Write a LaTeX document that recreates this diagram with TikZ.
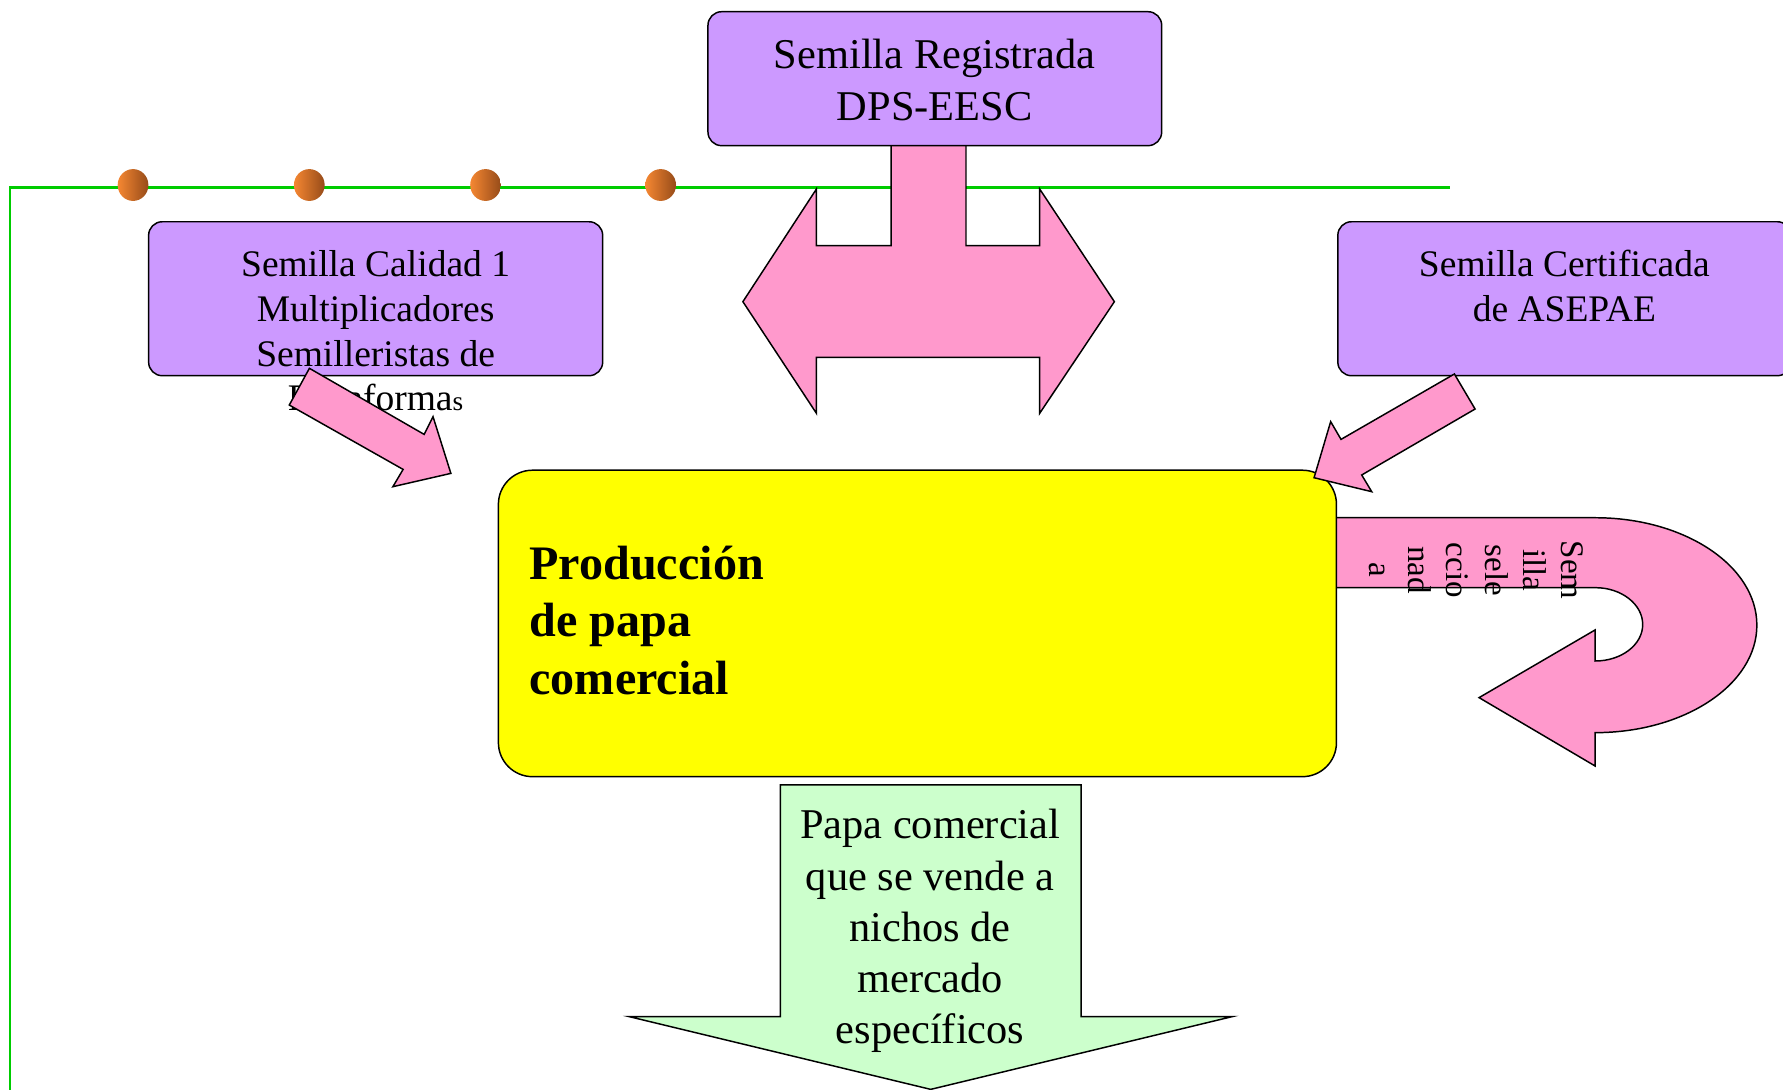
\documentclass[tikz,border=0pt]{standalone}
\usepackage{fontspec}
\setmainfont{Liberation Serif}
\usetikzlibrary{shapes.geometric}
\definecolor{purp}{HTML}{CC99FF}
\definecolor{pinkf}{HTML}{FF99CC}
\definecolor{yel}{HTML}{FFFF00}
\definecolor{lgreen}{HTML}{CCFFCC}
\definecolor{gline}{HTML}{00CC00}
\definecolor{ballA}{RGB}{245,135,50}
\definecolor{ballB}{RGB}{150,75,25}
\begin{document}
\begin{tikzpicture}[x=1pt,y=-1pt,
  seedbox/.style={rectangle, draw=black, line width=1.3pt, fill=purp, rounded corners=12pt, inner sep=0pt},
  prodbox/.style={rectangle, draw=black, line width=1.3pt, fill=yel, rounded corners=30pt, inner sep=0pt},
  pinkshape/.style={draw=black, fill=pinkf, line width=1.3pt, line join=miter},
  greenshape/.style={draw=black, fill=lgreen, line width=1.3pt, line join=miter},
  ball/.style={ellipse, inner sep=0pt, minimum width=27pt, minimum height=28pt, left color=ballA, right color=ballB},
  txt/.style={inner sep=0pt, align=center},
  frameline/.style={draw=gline, line width=2pt}]
\useasboundingbox (0,0) rectangle (1568,958);
\fill[white] (0,0) rectangle (1568,958);
% green frame
\coordinate (g1) at (1275,165);
\coordinate (g2) at (8.6,165);
\coordinate (g3) at (8.6,962);
\draw[frameline] (g1) -- (g2) -- (g3);
% balls
\node[ball] (b1) at (117,162.7) {};
\node[ball] (b2) at (272,162.7) {};
\node[ball] (b3) at (427,162.7) {};
\node[ball] (b4) at (581,162.7) {};
% double arrow below top box
\filldraw[pinkshape] (783.6,120) -- (783.6,216) -- (718,216) -- (718,166.2) -- (653.3,265.3) -- (718,363.5) -- (718,314.2) -- (914.3,314.2) -- (914.3,363.5) -- (980,265.3) -- (914.3,166.2) -- (914.3,216) -- (849.5,216) -- (849.5,120) -- cycle;
% top box
\node[seedbox, minimum width=399pt, minimum height=117.8pt] (reg) at (822.1,69.2) {};
\node[txt, font=\fontsize{37.3}{45.5}\selectfont] (treg) at (822,70.3) {Semilla Registrada\\DPS-EESC};
% left box
\node[seedbox, minimum width=399.3pt, minimum height=135.4pt] (cal) at (330.35,262.7) {};
\node[txt, font=\fontsize{33}{39.3}\selectfont] (tcal) at (330.3,291) {Semilla Calidad 1\\Multiplicadores\\Semilleristas de\\Plataforma{\fontsize{24}{24}\selectfont s}};
% right box
\node[seedbox, minimum width=398.5pt, minimum height=135.4pt] (cert) at (1375.75,262.7) {};
\node[txt, font=\fontsize{33}{39.3}\selectfont] (tcert) at (1375.7,251.5) {Semilla Certificada\\de ASEPAE};
% U-turn arrow
\filldraw[pinkshape] (1165,455.3) -- (1403,455.3) .. controls (1481.4,455.3) and (1545,497.6) .. (1545,549.8) .. controls (1545,602) and (1481.4,644.3) .. (1402.7,644.3) -- (1402.7,673.6) -- (1300.7,613.5) -- (1402.7,554) -- (1402.7,581.3) .. controls (1425.9,581.3) and (1444.6,567) .. (1444.6,549.2) .. controls (1444.6,531.4) and (1425.9,516.8) .. (1403,516.8) -- (1165,516.8) -- cycle;
\node[txt, rotate=-90, font=\fontsize{29}{33.8}\selectfont] (tsem) at (1298.5,501.5) {Sem\\illa\\sele\\ccio\\nad\\a};
% production box
\node[prodbox, minimum width=737pt, minimum height=269.5pt] (prod) at (806.8,548.25) {};
\node[inner sep=0pt, align=left, anchor=west, font=\bfseries\fontsize{42.3}{50.7}\selectfont] (tprod) at (465.5,545.5) {Producción\\de papa\\comercial};
% small arrows
\filldraw[pinkshape] (272.1,323.9) -- (373,382) -- (380.8,366.4) -- (396.5,416.3) -- (345.5,428) -- (354.5,412.8) -- (254.4,356.2) -- cycle;
\filldraw[pinkshape] (1279,328.9) -- (1297.2,359.7) -- (1197.5,417.7) -- (1206.3,432.4) -- (1155.6,420.1) -- (1170.2,370.8) -- (1179.3,386.4) -- cycle;
% down arrow
\filldraw[greenshape] (686.2,690.3) -- (950.7,690.3) -- (950.7,894) -- (1083.7,894) -- (818.5,958) -- (553.2,894) -- (686.2,894) -- cycle;
\node[txt, font=\fontsize{37.3}{45}\selectfont] (tpapa) at (818,818.7) {Papa comercial\\que se vende a\\nichos de\\mercado\\específicos};
\end{tikzpicture}
\end{document}
